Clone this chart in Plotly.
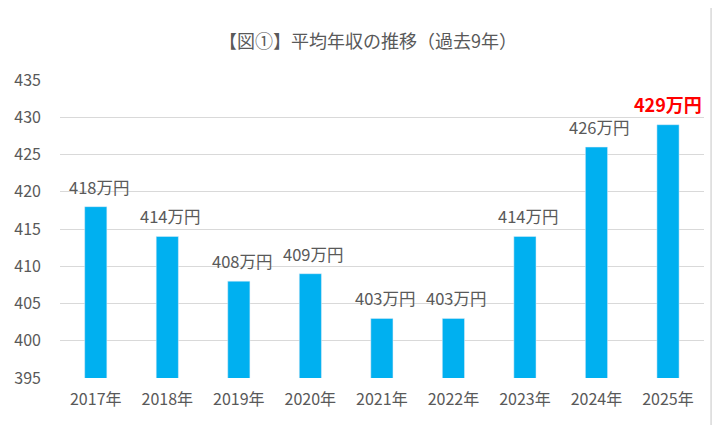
import plotly.graph_objects as go

# data
years = ["2017年", "2018年", "2019年", "2020年", "2021年", "2022年", "2023年", "2024年", "2025年"]
income = [418, 414, 408, 409, 403, 403, 414, 426, 429]
y_ticks = [395, 400, 405, 410, 415, 420, 425, 430, 435]

FONT = "Noto Sans CJK JP"
GRAY = "#595959"

fig = go.Figure()
fig.add_bar(
    x=years, y=income,
    marker_color="#00B0F0",
    width=0.31,
    hoverinfo="skip",
)

# data labels, last one highlighted in red
for i, (yr, v) in enumerate(zip(years, income)):
    last = i == len(years) - 1
    fig.add_annotation(
        x=yr, y=v,
        text=f"<b>{v}万円</b>" if last else f"{v}万円",
        showarrow=False, yanchor="bottom", yshift=6,
        xshift=0 if last else 3,
        font=dict(family=FONT, size=18 if last else 16.5,
                  color="#FF0000" if last else GRAY),
    )

fig.update_layout(
    width=720, height=425,
    paper_bgcolor="white", plot_bgcolor="white",
    margin=dict(l=52, r=24, t=72, b=55, autoexpand=False),
    showlegend=False,
    title=dict(
        text="【図①】平均年収の推移（過去9年）",
        x=0.5, xanchor="center", y=0.92, yanchor="middle",
        font=dict(family=FONT, size=18, color=GRAY),
    ),
    font=dict(family=FONT, size=16, color=GRAY),
)
fig.update_xaxes(
    showgrid=False, showline=False, ticks="", automargin=False,
    ticklabelstandoff=10,
    tickfont=dict(family=FONT, size=16, color=GRAY),
)
fig.update_yaxes(
    range=[395, 435], tickvals=y_ticks,
    showgrid=True, gridcolor="#D9D9D9", gridwidth=1,
    zeroline=False, showline=False, ticks="", automargin=False,
    ticklabelstandoff=18,
    tickfont=dict(family=FONT, size=16, color=GRAY),
)

# chart border
fig.add_shape(
    type="rect", xref="paper", yref="paper",
    x0=-0.0885, x1=1.011, y0=-0.2, y1=1.252,
    line=dict(color="#D9D9D9", width=1.5),
)

fig.write_html("out.html")
